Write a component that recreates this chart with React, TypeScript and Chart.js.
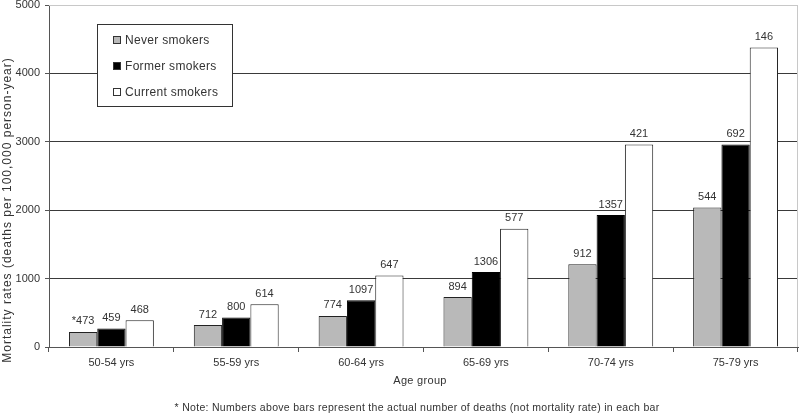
import React, { useEffect, useRef } from "react";
import { Chart, registerables } from "chart.js";

Chart.register(...registerables);

const categories = ["50-54 yrs", "55-59 yrs", "60-64 yrs", "65-69 yrs", "70-74 yrs", "75-79 yrs"];
const neverRates = [220, 320, 455, 730, 1210, 2040];
const formerRates = [270, 430, 685, 1095, 1930, 2960];
const currentRates = [390, 625, 1045, 1730, 2960, 4380];
const neverDeaths = ["*473", "712", "774", "894", "912", "544"];
const formerDeaths = ["459", "800", "1097", "1306", "1357", "692"];
const currentDeaths = ["468", "614", "647", "577", "421", "146"];
const seriesNames = ["Never smokers", "Former smokers", "Current smokers"];
const yTicks = [0, 1000, 2000, 3000, 4000, 5000];

const FONT = "'Liberation Sans', Arial, sans-serif";
const TEXT = "#333";
const fills = ["#b9b9b9", "#000000", "#ffffff"];

export default function App() {
  const ref = useRef<HTMLCanvasElement | null>(null);

  useEffect(() => {
    document.body.style.margin = "0";
    const canvas = ref.current;
    if (!canvas) return;
    const deathLabels = [neverDeaths, formerDeaths, currentDeaths];

    const overlay = {
      id: "overlay",
      afterDatasetsDraw(chart: any) {
        const ctx = chart.ctx;
        const ca = chart.chartArea;
        ctx.save();
        // light border top/right
        ctx.strokeStyle = "#c8c8c8";
        ctx.lineWidth = 1;
        ctx.beginPath();
        ctx.moveTo(ca.left, ca.top + 0.5);
        ctx.lineTo(ca.right - 0.5, ca.top + 0.5);
        ctx.lineTo(ca.right - 0.5, ca.bottom);
        ctx.stroke();

        // data labels
        ctx.fillStyle = TEXT;
        ctx.font = `11px ${FONT}`;
        ctx.textAlign = "center";
        ctx.textBaseline = "bottom";
        chart.data.datasets.forEach((ds: any, i: number) => {
          const meta = chart.getDatasetMeta(i);
          meta.data.forEach((bar: any, j: number) => {
            const lbl = deathLabels[i][j];
            ctx.fillText(lbl, bar.x, bar.y - 5);
          });
        });

        // legend box
        const lx = 97, ly = 24, lw = 135, lh = 82;
        ctx.fillStyle = "#fff";
        ctx.fillRect(lx, ly, lw, lh);
        ctx.strokeStyle = "#333";
        ctx.strokeRect(lx + 0.5, ly + 0.5, lw, lh);
        ctx.textAlign = "left";
        ctx.textBaseline = "middle";
        ctx.font = `12px ${FONT}`;
        (ctx as any).letterSpacing = "0.3px";
        seriesNames.forEach((name, i) => {
          const cy = 40 + i * 26;
          ctx.fillStyle = fills[i];
          ctx.fillRect(113, cy - 4, 8, 8);
          ctx.strokeStyle = "#333";
          ctx.strokeRect(113.5, cy - 3.5, 7, 7);
          ctx.fillStyle = TEXT;
          ctx.fillText(name, 125, cy + 1);
        });

        // axis titles and note
        ctx.textAlign = "center";
        ctx.font = `11px ${FONT}`;
        (ctx as any).letterSpacing = "0.3px";
        ctx.fillStyle = TEXT;
        ctx.fillText("Age group", 420, 381);
        ctx.font = `10.5px ${FONT}`;
        (ctx as any).letterSpacing = "0.3px";
        ctx.fillText(
          "* Note: Numbers above bars represent the actual number of deaths (not mortality rate) in each bar",
          417,
          408
        );
        ctx.save();
        ctx.translate(8, 210);
        ctx.rotate(-Math.PI / 2);
        ctx.font = `12px ${FONT}`;
        (ctx as any).letterSpacing = "1px";
        ctx.fillText("Mortality rates (deaths per 100,000 person-year)", 0, 0);
        ctx.restore();
        ctx.restore();
      },
    };

    const chart = new Chart(canvas, {
      type: "bar",
      data: {
        labels: categories,
        datasets: [
          { label: seriesNames[0], data: neverRates, backgroundColor: fills[0], borderColor: "#222", borderWidth: 1 },
          { label: seriesNames[1], data: formerRates, backgroundColor: fills[1], borderColor: "#000", borderWidth: 1 },
          { label: seriesNames[2], data: currentRates, backgroundColor: fills[2], borderColor: "#222", borderWidth: 1 },
        ],
      },
      options: {
        responsive: false,
        animation: false,
        layout: { padding: { top: 0, right: 2, left: 0, bottom: 0 } },
        plugins: { legend: { display: false }, tooltip: { enabled: false } },
        datasets: { bar: { categoryPercentage: 0.68, barPercentage: 1 } },
        scales: {
          x: {
            grid: {
              offset: true,
              drawOnChartArea: false,
              tickLength: 5,
              color: "#555",
            },
            border: { color: "#555" },
            ticks: {
              color: TEXT,
              font: { family: FONT, size: 11 },
              padding: 4,
              maxRotation: 0,
            },
            afterFit(scale: any) {
              scale.height = 69;
            },
          },
          y: {
            min: 0,
            max: 5000,
            afterBuildTicks(scale: any) {
              scale.ticks = yTicks.map((v) => ({ value: v }));
            },
            grid: {
              color: (c: any) => (c.tick && c.tick.value === 5000 ? "#c8c8c8" : "#3a3a3a"),
              tickColor: "#555",
              tickLength: 4,
              drawTicks: true,
            },
            border: { color: "#555" },
            ticks: {
              color: TEXT,
              font: { family: FONT, size: 11 },
              padding: 5,
              callback: (v: any) => String(v),
            },
            afterFit(scale: any) {
              scale.width = 49;
              scale.paddingTop = 5;
              scale.paddingBottom = 0;
            },
          },
        },
      },
      plugins: [overlay],
    });
    return () => chart.destroy();
  }, []);

  return <canvas ref={ref} width={800} height={416} style={{ display: "block" }} />;
}
